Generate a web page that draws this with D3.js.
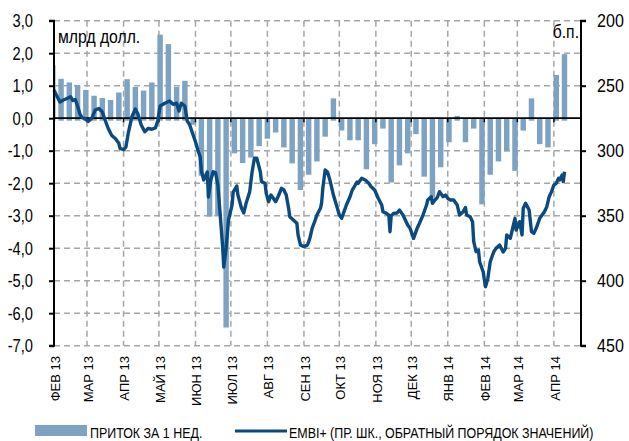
<!DOCTYPE html>
<html><head><meta charset="utf-8">
<script src="https://cdn.jsdelivr.net/npm/d3@7"></script>
<style>
html,body{margin:0;padding:0;background:#fff;}
svg{display:block;}
text{font-family:"Liberation Sans",Arial,sans-serif;fill:#000;}
</style></head>
<body>
<svg id="c" width="629" height="441"></svg>
<script>
// ---- DATA ----
const monthTicks = ["2013-02-01","2013-03-01","2013-04-01","2013-05-01","2013-06-01","2013-07-01","2013-08-01","2013-09-01","2013-10-01","2013-11-01","2013-12-01","2014-01-01","2014-02-01","2014-03-01","2014-04-01"];
const monthLabels = ["ФЕВ 13","МАР 13","АПР 13","МАЙ 13","ИЮН 13","ИЮЛ 13","АВГ 13","СЕН 13","ОКТ 13","НОЯ 13","ДЕК 13","ЯНВ 14","ФЕВ 14","МАР 14","АПР 14"];
const leftTicks = [3,2,1,0,-1,-2,-3,-4,-5,-6,-7];
const leftTickLabels = ["3,0","2,0","1,0","0,0","-1,0","-2,0","-3,0","-4,0","-5,0","-6,0","-7,0"];
const rightTicks = [200,250,300,350,400,450];

// weekly fund flows, bn USD
const flowDates = ["2013-01-31","2013-02-07","2013-02-14","2013-02-21","2013-02-28","2013-03-07","2013-03-14","2013-03-21","2013-03-28","2013-04-04","2013-04-11","2013-04-18","2013-04-25","2013-05-02","2013-05-09","2013-05-16","2013-05-23","2013-05-30","2013-06-06","2013-06-13","2013-06-20","2013-06-27","2013-07-04","2013-07-11","2013-07-18","2013-07-25","2013-08-01","2013-08-08","2013-08-15","2013-08-22","2013-08-29","2013-09-05","2013-09-12","2013-09-19","2013-09-26","2013-10-03","2013-10-10","2013-10-17","2013-10-24","2013-10-31","2013-11-07","2013-11-14","2013-11-21","2013-11-28","2013-12-05","2013-12-12","2013-12-19","2013-12-26","2014-01-02","2014-01-09","2014-01-16","2014-01-23","2014-01-30","2014-02-06","2014-02-13","2014-02-20","2014-02-27","2014-03-06","2014-03-13","2014-03-20","2014-03-27","2014-04-03","2014-04-10"];
const flowValues = [1.63,1.21,1.1,1.02,0.87,0.69,0.62,0.56,0.79,1.2,0.96,0.85,1.1,2.57,2.28,0.96,1.15,-0.2,-1.77,-3.03,-3.0,-6.44,-1.08,-1.38,-1.21,-0.86,-0.63,-0.44,-0.9,-1.39,-2.21,-1.74,-1.33,-0.57,0.61,-0.38,-0.68,-0.68,-1.57,-0.8,-0.32,-1.98,-1.45,-1.08,-0.49,-1.8,-2.44,-1.51,-0.74,0.07,-0.74,-0.32,-2.65,-1.74,-1.33,-1.02,-1.62,-0.38,0.61,-0.8,-0.9,1.33,1.97];

// EMBI+ spread, bp
const embiDates = ["2013-02-01","2013-02-03","2013-02-06","2013-02-09","2013-02-12","2013-02-15","2013-02-17","2013-02-19","2013-02-21","2013-02-23","2013-02-25","2013-02-27","2013-03-02","2013-03-05","2013-03-08","2013-03-11","2013-03-14","2013-03-16","2013-03-19","2013-03-22","2013-03-25","2013-03-28","2013-03-29","2013-04-01","2013-04-03","2013-04-05","2013-04-08","2013-04-11","2013-04-13","2013-04-16","2013-04-19","2013-04-22","2013-04-25","2013-04-28","2013-04-30","2013-05-02","2013-05-06","2013-05-10","2013-05-13","2013-05-16","2013-05-18","2013-05-20","2013-05-23","2013-05-25","2013-05-27","2013-05-30","2013-06-01","2013-06-03","2013-06-05","2013-06-06","2013-06-08","2013-06-11","2013-06-12","2013-06-14","2013-06-16","2013-06-18","2013-06-20","2013-06-22","2013-06-24","2013-06-25","2013-06-27","2013-06-29","2013-07-02","2013-07-03","2013-07-06","2013-07-07","2013-07-10","2013-07-12","2013-07-14","2013-07-17","2013-07-19","2013-07-21","2013-07-23","2013-07-26","2013-07-27","2013-07-30","2013-07-31","2013-08-02","2013-08-04","2013-08-06","2013-08-08","2013-08-10","2013-08-13","2013-08-15","2013-08-17","2013-08-19","2013-08-20","2013-08-23","2013-08-26","2013-08-27","2013-08-29","2013-09-01","2013-09-04","2013-09-06","2013-09-08","2013-09-10","2013-09-12","2013-09-15","2013-09-16","2013-09-17","2013-09-19","2013-09-21","2013-09-23","2013-09-26","2013-09-29","2013-10-01","2013-10-03","2013-10-05","2013-10-07","2013-10-10","2013-10-12","2013-10-13","2013-10-16","2013-10-17","2013-10-20","2013-10-23","2013-10-26","2013-10-28","2013-10-31","2013-11-03","2013-11-06","2013-11-07","2013-11-10","2013-11-12","2013-11-13","2013-11-14","2013-11-16","2013-11-19","2013-11-21","2013-11-23","2013-11-24","2013-11-26","2013-11-28","2013-11-30","2013-12-03","2013-12-06","2013-12-08","2013-12-11","2013-12-14","2013-12-15","2013-12-18","2013-12-19","2013-12-21","2013-12-23","2013-12-25","2013-12-28","2013-12-30","2014-01-01","2014-01-03","2014-01-06","2014-01-09","2014-01-11","2014-01-14","2014-01-16","2014-01-17","2014-01-20","2014-01-22","2014-01-23","2014-01-25","2014-01-27","2014-01-28","2014-01-31","2014-02-02","2014-02-04","2014-02-06","2014-02-09","2014-02-11","2014-02-14","2014-02-17","2014-02-19","2014-02-20","2014-02-23","2014-02-25","2014-02-27","2014-02-28","2014-03-03","2014-03-05","2014-03-06","2014-03-08","2014-03-11","2014-03-13","2014-03-15","2014-03-17","2014-03-20","2014-03-22","2014-03-24","2014-03-26","2014-03-28","2014-03-30","2014-04-01","2014-04-03","2014-04-05","2014-04-06","2014-04-08","2014-04-09","2014-04-10"];
const embiValues = [253.3,257.2,262.5,261,259.8,258.5,261.4,260.6,265.6,271.8,274.8,275.2,277.5,275.1,268.7,267.5,270.2,275.6,282.9,288.3,290.6,294.3,298.3,299.1,297.2,286.4,274.1,267.9,271.4,280.2,285.4,282.8,283.5,282.5,277.2,265.6,263.5,261.8,264.3,263.5,269.5,263.5,265.6,277.2,279.8,287.9,293.1,299.5,304.8,315.6,322.5,316.4,335.6,322.5,316.2,316.8,326.4,349.5,373.3,389.5,374.8,353.3,341.8,331.8,327.2,334.1,344.1,347.9,340.2,331.5,316.4,305.8,305.8,316.2,323.8,325.1,332.8,339.2,334.1,336.6,339.2,335.4,328.9,330.2,334.1,344.3,350.8,353.3,355.8,364.8,372.5,373.8,372.5,367.4,359.5,354.8,349.5,344.3,340.2,328.9,314.8,316.4,322.5,334.1,343.1,349.5,352,346.9,341.8,335.6,330.2,328.9,324.1,325.1,321.2,322.5,325.1,327.7,330.2,336.6,341.8,346.9,348.2,349.5,362.3,350.2,348.2,347.9,345.6,348.2,349.5,353.3,357.2,359.7,367.4,359.7,355.8,349.5,341.8,337.9,335.4,340.5,337.9,336.2,331.5,335.4,334.1,336.6,337.9,337.9,341.8,349.5,346.9,343.7,349.5,350.8,354.6,370,377.7,376.4,385.4,393.1,404.6,398.2,385.4,377.7,375.1,372.5,377.9,375.1,364.8,367.4,359.7,352,361,354.6,364.8,344.3,340.5,345.6,362.3,363.5,359.7,352,349.5,346.9,343.1,335.4,331.5,326.4,325.1,321.2,322.5,318.7,323.8,316.2];

const legendLabels = ["ПРИТОК ЗА 1 НЕД.","EMBI+ (ПР. ШК., ОБРАТНЫЙ ПОРЯДОК ЗНАЧЕНИЙ)"];
const leftUnit = "млрд долл.";
const rightUnit = "б.п.";

// ---- CHART ----
const BAR = "#7da2c2", LINE = "#0a4a80", GRID = "#a6a6a6";
const parse = d3.timeParse("%Y-%m-%d");
const svg = d3.select("#c");
const L = 54, R = 581, T = 20.7, B = 345.7;

const x = d3.scaleTime().domain([parse("2013-02-01"), parse("2014-04-24")]).range([L, R]);
const yL = d3.scaleLinear().domain([-7, 3]).range([B, T]);
const yR = d3.scaleLinear().domain([450, 200]).range([B, T]);

svg.append("defs").append("clipPath").attr("id","plot")
  .append("rect").attr("x",L).attr("y",0).attr("width",R-L).attr("height",441);

// grid horizontal
svg.append("g").selectAll("line").data(leftTicks.filter(d=>d!==0)).join("line")
  .attr("x1",L).attr("x2",R).attr("y1",d=>yL(d)).attr("y2",d=>yL(d))
  .attr("stroke",GRID).attr("stroke-width",1.5).attr("stroke-dasharray","6,4");
// grid vertical
svg.append("g").selectAll("line").data(monthTicks.slice(1)).join("line")
  .attr("x1",d=>x(parse(d))).attr("x2",d=>x(parse(d))).attr("y1",T).attr("y2",B)
  .attr("stroke",GRID).attr("stroke-width",1.5).attr("stroke-dasharray","6,4");

// bars
const bw = (x(parse("2013-02-08")) - x(parse("2013-02-01"))) * 0.66;
svg.append("g").attr("clip-path","url(#plot)").selectAll("rect")
  .data(flowDates.map((d,i)=>({d:parse(d), v:flowValues[i]}))).join("rect")
  .attr("x",d=>x(d.d)-bw/2).attr("width",bw)
  .attr("y",d=>d.v>=0 ? yL(d.v) : yL(0))
  .attr("height",d=>d.v>=0 ? yL(0)-yL(d.v)+2.5 : yL(d.v)-yL(0))
  .attr("fill",BAR);

// zero line
svg.append("line").attr("x1",L).attr("x2",R).attr("y1",yL(0)).attr("y2",yL(0))
  .attr("stroke","#000").attr("stroke-width",1.8);
svg.append("g").selectAll("line").data(monthTicks.slice(1)).join("line")
  .attr("x1",d=>x(parse(d))).attr("x2",d=>x(parse(d))).attr("y1",yL(0)).attr("y2",yL(0)+4)
  .attr("stroke","#000").attr("stroke-width",1.5);

// EMBI line
const lineGen = d3.line().x(d=>x(d.d)).y(d=>yR(d.v));
svg.append("path").datum(embiDates.map((d,i)=>({d:parse(d), v:embiValues[i]})))
  .attr("d",lineGen).attr("fill","none").attr("stroke",LINE).attr("stroke-width",3.4)
  .attr("stroke-linejoin","round");

// left axis
const la = svg.append("g").attr("transform",`translate(${L},0)`)
  .call(d3.axisLeft(yL).tickValues(leftTicks).tickSize(5).tickFormat(""));
la.select(".domain").attr("stroke","#000").attr("stroke-width",2).attr("d",`M-5,${T}H0V${B}H-5`);
la.selectAll(".tick line").attr("stroke","#000").attr("stroke-width",2);
svg.append("g").selectAll("text").data(leftTicks).join("text")
  .attr("transform",d=>`translate(33,${yL(d)}) scale(0.84,1)`)
  .attr("text-anchor","end").attr("dy","0.36em").attr("font-size",17.5)
  .text((d,i)=>leftTickLabels[i]);

// right axis
const ra = svg.append("g").attr("transform",`translate(${R},0)`)
  .call(d3.axisRight(yR).tickValues(rightTicks).tickSize(5).tickFormat(""));
ra.select(".domain").attr("stroke","#000").attr("stroke-width",2).attr("d",`M5,${T}H0V${B}H5`);
ra.selectAll(".tick line").attr("stroke","#000").attr("stroke-width",2);
svg.append("g").selectAll("text").data(rightTicks).join("text")
  .attr("transform",d=>`translate(597,${yR(d)}) scale(0.92,1)`)
  .attr("dy","0.36em").attr("font-size",17.5).text(d=>d);

// units
svg.append("text").attr("transform","translate(58,42.5) scale(0.9,1)").attr("font-size",17.5).text(leftUnit);
svg.append("text").attr("transform","translate(579,38) scale(0.9,1)").attr("text-anchor","end").attr("font-size",17.5).text(rightUnit);

// x labels
svg.append("g").selectAll("text").data(monthTicks).join("text")
  .attr("transform",d=>`translate(${x(parse(d))+1},356) rotate(-90)`)
  .attr("text-anchor","end").attr("dy","0.36em").attr("font-size",13)
  .text((d,i)=>monthLabels[i]);

// legend
svg.append("rect").attr("x",35).attr("y",425).attr("width",52).attr("height",11).attr("fill",BAR);
svg.append("text").attr("transform","translate(90,438) scale(0.83,1)").attr("font-size",15).text(legendLabels[0]);
svg.append("line").attr("x1",235).attr("x2",287).attr("y1",431).attr("y2",431).attr("stroke",LINE).attr("stroke-width",3);
svg.append("text").attr("transform","translate(289,438) scale(0.83,1)").attr("font-size",15).text(legendLabels[1]);
</script>
</body></html>
